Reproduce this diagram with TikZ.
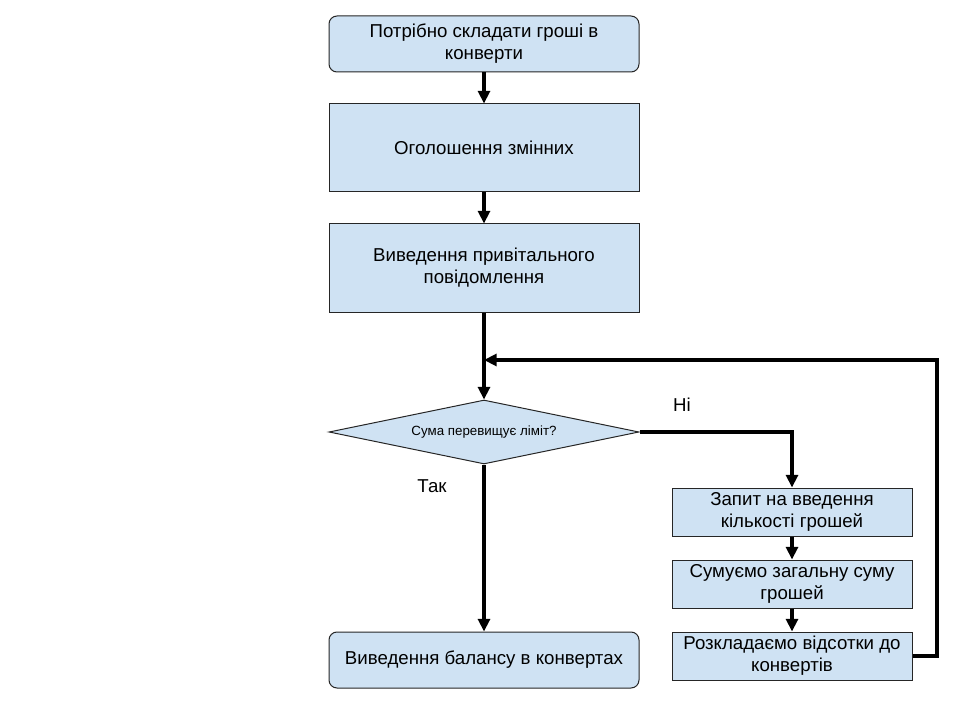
\documentclass[tikz,border=0pt]{standalone}
\usepackage{fontspec}
\setmainfont{Liberation Sans}
\usetikzlibrary{arrows.meta,shapes.geometric}
\definecolor{boxfill}{HTML}{CFE2F3}
\begin{document}
\begin{tikzpicture}[x=0.75pt,y=-0.75pt,
  box/.style={draw=black!85,line width=0.75pt,fill=boxfill,align=center,font=\fontsize{14}{16.5}\selectfont,inner sep=0pt},
  conn/.style={line width=2.3pt,-{Triangle[length=9.5pt,width=9pt]}},
  lbl/.style={font=\fontsize{14}{16.5}\selectfont}]
\useasboundingbox[fill=white] (0,0) rectangle (960,720);
\node[box,rounded corners=6pt,minimum width=310*0.75pt,minimum height=56*0.75pt] (start) at (484,44) {Потрібно складати гроші в\\конверти};
\node[box,minimum width=310*0.75pt,minimum height=88*0.75pt] (decl) at (484,148) {Оголошення змінних};
\node[box,minimum width=310*0.75pt,minimum height=88*0.75pt] (greet) at (484,268) {Виведення привітального\\повідомлення};
\node[box,diamond,aspect=4.84,minimum width=310*0.75pt,minimum height=64*0.75pt,inner sep=0pt,font=\fontsize{10}{12}\selectfont] (dec) at (484,432) {Сума перевищує ліміт?};
\node[box,rounded corners=6pt,minimum width=310*0.75pt,minimum height=56*0.75pt] (out) at (484,660) {Виведення балансу в конвертах};
\node[box,minimum width=240*0.75pt,minimum height=48*0.75pt] (ask) at (792,512) {Запит на введення\\кількості грошей};
\node[box,minimum width=240*0.75pt,minimum height=48*0.75pt] (sum) at (792,584) {Сумуємо загальну суму\\грошей};
\node[box,minimum width=240*0.75pt,minimum height=48*0.75pt] (dist) at (792,656) {Розкладаємо відсотки до\\конвертів};
\coordinate (merge) at (484,360);
\coordinate (loopR) at (937,656);
\coordinate (loopT) at (937,360);
\coordinate (decR) at (792,432);
\node[lbl] (ni) at (682,405) {Ні};
\node[lbl] (tak) at (432,486) {Так};
\draw[conn] (start) -- (decl);
\draw[conn] (decl) -- (greet);
\draw[conn] (greet) -- (dec);
\draw[conn] (dec.south) -- (out);
\draw[conn] (dec.east) -- (decR) -- (ask);
\draw[conn] (ask) -- (sum);
\draw[conn] (sum) -- (dist);
\draw[conn] (dist.east) -- (loopR) -- (loopT) -- (merge);
\end{tikzpicture}
\end{document}
